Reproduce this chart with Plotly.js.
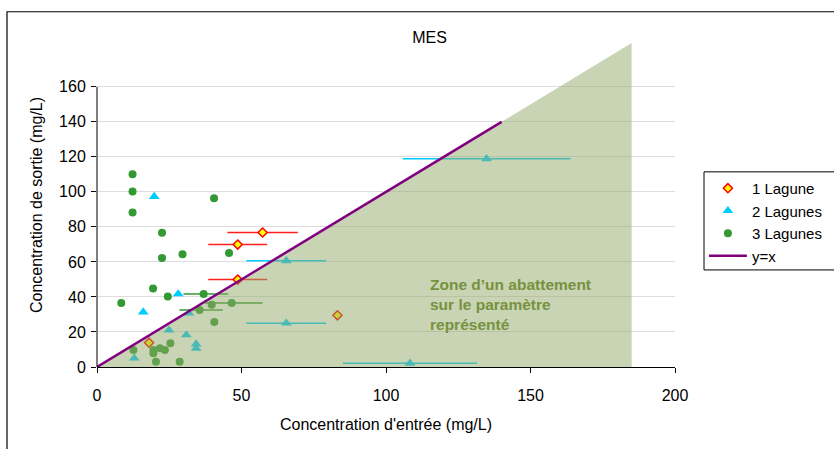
<!DOCTYPE html>
<html>
<head>
<meta charset="utf-8">
<script src="https://cdn.plot.ly/plotly-3.0.1.min.js"></script>
<style>html,body{margin:0;padding:0;background:#fff;}#chart{width:834px;height:449px;}</style>
</head>
<body>
<div id="chart"></div>
<script>
// 1 Lagune
const lag1X = [57.3, 48.7, 48.7, 83.2, 18.0];
const lag1Y = [76.8, 69.9, 49.9, 29.5, 13.9];
const lag1ErrPlus = [12.2, 10.2, 10.2, 0, 0];
const lag1ErrMinus = [12.2, 10.2, 10.2, 0, 0];

// 2 Lagunes
const lag2X = [19.8, 28.1, 16.0, 31.8, 24.9, 30.9, 34.3, 34.3, 12.9, 65.5, 65.5, 134.8, 108.3];
const lag2Y = [97.3, 41.7, 31.4, 30.7, 21.0, 18.3, 13.1, 10.7, 5.0, 60.6, 25.0, 118.9, 2.1];
const lag2ErrPlus = [0, 0, 0, 0, 0, 0, 0, 0, 0, 13.8, 13.8, 29.0, 23.2];
const lag2ErrMinus = [0, 0, 0, 0, 0, 0, 0, 0, 0, 13.8, 13.8, 29.0, 23.2];

// 3 Lagunes
const lag3X = [12.3, 12.3, 12.3, 40.5, 22.5, 22.5, 29.6, 45.7, 19.4, 24.5, 8.4, 36.9, 39.7, 46.6, 35.5, 40.6, 12.6, 19.5, 19.5, 21.8, 23.5, 25.4, 20.4, 28.6];
const lag3Y = [110.1, 100.2, 88.2, 96.4, 76.6, 62.3, 64.4, 65.1, 44.8, 40.2, 36.6, 41.7, 35.6, 36.6, 32.6, 25.7, 9.7, 9.7, 7.8, 10.7, 9.7, 13.5, 3.0, 3.0];
const lag3ErrPlus = [0, 0, 0, 0, 0, 0, 0, 0, 0, 0, 0, 8.5, 0, 10.7, 8.0, 0, 0, 0, 0, 0, 0, 0, 0, 0];
const lag3ErrMinus = [0, 0, 0, 0, 0, 0, 0, 0, 0, 0, 0, 7.0, 0, 9.2, 7.0, 0, 0, 0, 0, 0, 0, 0, 0, 0];

// y = x reference line
const identX = [0, 140];
const identY = [0, 140];

// zone d'abattement (polygon)
const zoneX = [0, 185, 185, 0];
const zoneY = [0, 185, 0, 0];

const xTicks = [0, 50, 100, 150, 200];
const yTicks = [0, 20, 40, 60, 80, 100, 120, 140, 160];

const FONT = 'Liberation Sans, Arial, sans-serif';
const FS = 16;

const traces = [
  {
    type: 'scatter', mode: 'markers', name: '1 Lagune',
    x: lag1X, y: lag1Y,
    marker: {symbol: 'diamond', size: 7, color: '#FFFF00', line: {color: '#FF0000', width: 1.5}},
    error_x: {type: 'data', symmetric: false, array: lag1ErrPlus, arrayminus: lag1ErrMinus, color: '#FF2020', thickness: 1.5, width: 0},
    legendgroup: 'a', legendrank: 1, cliponaxis: false
  },
  {
    type: 'scatter', mode: 'markers', name: '2 Lagunes',
    x: lag2X, y: lag2Y,
    marker: {symbol: 'triangle-up', size: 9.5, color: '#00CCFF'},
    error_x: {type: 'data', symmetric: false, array: lag2ErrPlus, arrayminus: lag2ErrMinus, color: '#00CCFF', thickness: 1.5, width: 0},
    legendgroup: 'b', legendrank: 2, cliponaxis: false
  },
  {
    type: 'scatter', mode: 'markers', name: '3 Lagunes',
    x: lag3X, y: lag3Y,
    marker: {symbol: 'circle', size: 8, color: '#339933'},
    error_x: {type: 'data', symmetric: false, array: lag3ErrPlus, arrayminus: lag3ErrMinus, color: '#339933', thickness: 1.5, width: 0},
    legendgroup: 'c', legendrank: 3, cliponaxis: false
  },
  {
    type: 'scatter', mode: 'lines', name: 'zone',
    x: zoneX, y: zoneY, fill: 'toself',
    fillcolor: 'rgba(147,169,105,0.5)', line: {width: 0},
    showlegend: false, hoverinfo: 'skip'
  },
  {
    type: 'scatter', mode: 'lines', name: 'y=x',
    x: identX, y: identY,
    line: {color: '#800080', width: 2.5},
    legendgroup: 'd', legendrank: 4
  }
];

const layout = {
  width: 834, height: 449,
  paper_bgcolor: '#FFFFFF', plot_bgcolor: 'rgba(0,0,0,0)',
  font: {family: FONT, size: FS, color: '#000000'},
  margin: {l: 97, r: 159, t: 43.25, b: 82, autoexpand: false},
  title: {text: 'MES', x: 0.515, xref: 'container', y: 0.9176, yref: 'container', yanchor: 'middle', xanchor: 'center', font: {family: FONT, size: FS, color: '#000'}},
  showlegend: true,
  legend: {
    x: 1.050, xanchor: 'left', y: 0.602, yanchor: 'top',
    borderwidth: 0, bgcolor: 'rgba(0,0,0,0)',
    font: {family: FONT, size: 15, color: '#000'},
    traceorder: 'grouped', tracegroupgap: 0, itemwidth: 38
  },
  xaxis: {
    range: [0, 200], tickvals: xTicks, ticktext: xTicks.map(String),
    ticks: 'outside', ticklen: 5, tickcolor: '#000', tickwidth: 1,
    ticklabelstandoff: 9,
    showline: true, linecolor: '#000', linewidth: 1,
    showgrid: false, zeroline: false, fixedrange: true,
    title: {text: "Concentration d'entrée (mg/L)", font: {family: FONT, size: FS}, standoff: 15}
  },
  yaxis: {
    range: [0, 185], tickvals: yTicks, ticktext: yTicks.map(String),
    ticks: 'outside', ticklen: 5, tickcolor: '#000', tickwidth: 1,
    ticklabelstandoff: 2,
    showline: false, showgrid: true, gridcolor: '#DDDDDD', gridwidth: 1,
    zeroline: false, fixedrange: true,
    title: {text: 'Concentration de sortie (mg/L)', font: {family: FONT, size: FS}, standoff: 12}
  },
  shapes: [
    {type: 'line', xref: 'paper', yref: 'paper', x0: 0, x1: 0, y0: 0, y1: 160/185, line: {color: '#000', width: 1}, layer: 'above'},
    {type: 'rect', xref: 'paper', yref: 'paper', x0: (7-97)/578, x1: (845-97)/578, y0: (367-460)/323.75, y1: (367-12)/323.75, line: {color: '#000', width: 1.2}, fillcolor: 'rgba(0,0,0,0)', layer: 'below'},
    {type: 'rect', xref: 'paper', yref: 'paper', x0: (704-97)/578, x1: (850-97)/578, y0: (367-270)/323.75, y1: (367-172)/323.75, line: {color: '#000', width: 1}, fillcolor: '#FFFFFF', layer: 'below'}
  ],
  annotations: [
    {x: 114.4, y: 35.6, xref: 'x', yref: 'y', xanchor: 'left', yanchor: 'middle', align: 'left', showarrow: false,
     text: '<b>Zone d’un abattement<br>sur le paramètre<br>représenté</b>',
     font: {family: FONT, size: 15.5, color: '#76923C'}}
  ]
};

Plotly.newPlot('chart', traces, layout, {displayModeBar: false, staticPlot: true});
</script>
</body>
</html>
